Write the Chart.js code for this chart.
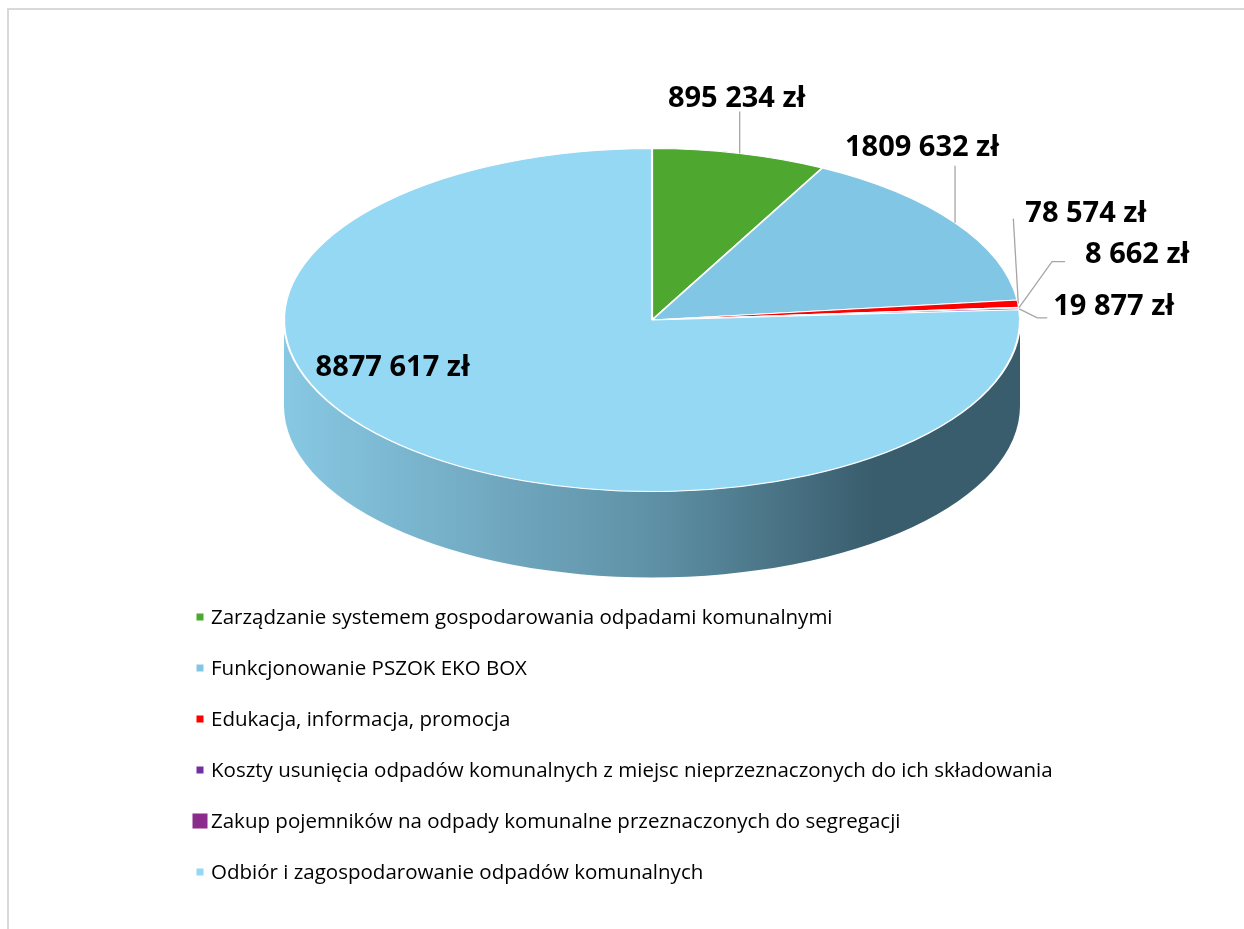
<!DOCTYPE html>
<html lang="pl">
<head>
<meta charset="utf-8">
<script src="https://cdn.jsdelivr.net/npm/chart.js@4.4.1/dist/chart.umd.min.js"></script>
<style>
  html, body { margin: 0; padding: 0; background: #fff; overflow: hidden; }
  #page { position: relative; width: 1244px; height: 929px; overflow: hidden; }
  .rule { position: absolute; background: #d9d9d9; }
  #ruleLeft { left: 7px; top: 8px; width: 2px; height: 921px; }
  #ruleTop { left: 7px; top: 8px; width: 1237px; height: 2px; }
  #chart { position: absolute; left: 0; top: 0; }
  #legend { position: absolute; left: 0; top: 591px; margin: 0; padding: 0; list-style: none;
            font-family: "Open Sans", sans-serif; font-size: 20.5px; color: #000; }
  #legend li { position: relative; height: 51px; line-height: 51px; padding-left: 211px; white-space: nowrap; }
  #legend li span { position: absolute; left: 199.5px; top: 50%; transform: translate(-50%, -50%); }
</style>
</head>
<body>
<div id="page">
<div class="rule" id="ruleLeft"></div>
<div class="rule" id="ruleTop"></div>
<canvas id="chart" width="1244" height="929"></canvas>
<ul id="legend"></ul>
</div>
<script>
const categories = [
  "Zarządzanie systemem gospodarowania odpadami komunalnymi",
  "Funkcjonowanie PSZOK EKO BOX",
  "Edukacja, informacja, promocja",
  "Koszty usunięcia odpadów komunalnych z miejsc nieprzeznaczonych do ich składowania",
  "Zakup pojemników na odpady komunalne przeznaczonych do segregacji",
  "Odbiór i zagospodarowanie odpadów komunalnych",
];
const amounts = [895234, 1809632, 78574, 8662, 19877, 8877617];

const sliceColors = ["#4ea72e", "#81c6e4", "#ff0000", "#7030a0", "#8b2b8b", "#94d8f4"];
const legendBoxSizes = [7, 7, 7, 7, 15, 7];

// data label placement, relative to the rim point at the slice middle
const labelAlign = ["center", "center", "left", "left", "left", "left"];
const labelDx = [-3, -33, 7, 66, 34, -84];
const labelDy = [-55, -75, -90, -53, -2, -77];
const leaders = [[[0, -42]], [[0, -57]], [[-5, -85]], [[33, -46], [46, -46]], [[18, 9], [28, 9]], []];
const depth = 86; // thickness of the 3d pie

function zl(v) {
  const hi = Math.floor(v / 1000);
  const lo = String(v % 1000).padStart(3, "0");
  return (hi ? hi + " " + lo : String(v)) + " zł";
}

function mix(hex, hex2, t) {
  const a = [1, 3, 5].map((i) => parseInt(hex.substr(i, 2), 16));
  const b = [1, 3, 5].map((i) => parseInt(hex2.substr(i, 2), 16));
  return "rgb(" + a.map((v, k) => Math.round(v + (b[k] - v) * t)).join(",") + ")";
}

const pie3d = {
  id: "pie3d",
  beforeDatasetsDraw(chart) {
    const { ctx, chartArea } = chart;
    const arcs = chart.getDatasetMeta(0).data;
    const cx = arcs[0].x, cy = arcs[0].y;
    const ry = arcs[0].outerRadius;
    const rx = chartArea.width / 2;

    // side wall of the front half
    arcs.forEach((arc, i) => {
      const col = sliceColors[i];
      const grad = ctx.createLinearGradient(cx - rx, 0, cx + rx, 0);
      grad.addColorStop(0, mix(col, "#1f3a47", 0.1));
      grad.addColorStop(0.5, mix(col, "#1f3a47", 0.45));
      grad.addColorStop(0.8, mix(col, "#1f3a47", 0.78));
      grad.addColorStop(1, mix(col, "#1f3a47", 0.78));
      [-2 * Math.PI, 0, 2 * Math.PI].forEach((k) => {
        const s = Math.max(arc.startAngle + k, 0);
        const e = Math.min(arc.endAngle + k, Math.PI);
        if (e <= s) return;
        ctx.beginPath();
        ctx.ellipse(cx, cy, rx, ry, 0, s, e, false);
        ctx.ellipse(cx, cy + depth, rx, ry, 0, e, s, true);
        ctx.closePath();
        ctx.fillStyle = grad;
        ctx.fill();
      });
    });

    ctx.save();
    ctx.translate(cx, cy);
    ctx.scale(rx / ry, 1);
    ctx.translate(-cx, -cy);
  },
  afterDatasetsDraw(chart) {
    const { ctx, chartArea } = chart;
    ctx.restore();
    const arcs = chart.getDatasetMeta(0).data;
    const cx = arcs[0].x, cy = arcs[0].y;
    const ry = arcs[0].outerRadius;
    const rx = chartArea.width / 2;

    ctx.save();
    arcs.forEach((arc, i) => {
      const mid = (arc.startAngle + arc.endAngle) / 2;
      const ax = cx + rx * Math.cos(mid);
      const ay = cy + ry * Math.sin(mid);
      if (leaders[i].length) {
        ctx.beginPath();
        ctx.moveTo(ax, ay);
        leaders[i].forEach((p) => ctx.lineTo(ax + p[0], ay + p[1]));
        ctx.strokeStyle = "#a6a6a6";
        ctx.lineWidth = 1.3;
        ctx.stroke();
      }
      ctx.font = "bold 29px 'Open Sans', sans-serif";
      ctx.fillStyle = "#000";
      ctx.textAlign = labelAlign[i];
      ctx.textBaseline = "middle";
      ctx.fillText(zl(amounts[i]), ax + labelDx[i], ay + labelDy[i]);
    });
    ctx.restore();
  },
};

const chart = new Chart(document.getElementById("chart"), {
  type: "pie",
  data: {
    labels: categories,
    datasets: [
      {
        data: amounts,
        backgroundColor: sliceColors,
        borderColor: "#ffffff",
        borderWidth: 1,
        clip: false,
      },
    ],
  },
  options: {
    responsive: false,
    animation: false,
    layout: { padding: { left: 284, right: 224, top: 148, bottom: 437 } },
    plugins: {
      legend: { display: false },
      tooltip: { enabled: false },
    },
  },
  plugins: [pie3d],
});

// html legend, built from the chart's own legend items
const ul = document.getElementById("legend");
chart.options.plugins.legend.labels.generateLabels(chart).forEach((item, i) => {
  const li = document.createElement("li");
  const box = document.createElement("span");
  box.style.width = legendBoxSizes[i] + "px";
  box.style.height = legendBoxSizes[i] + "px";
  box.style.background = item.fillStyle;
  li.appendChild(box);
  li.appendChild(document.createTextNode(item.text));
  ul.appendChild(li);
});
</script>
</body>
</html>
